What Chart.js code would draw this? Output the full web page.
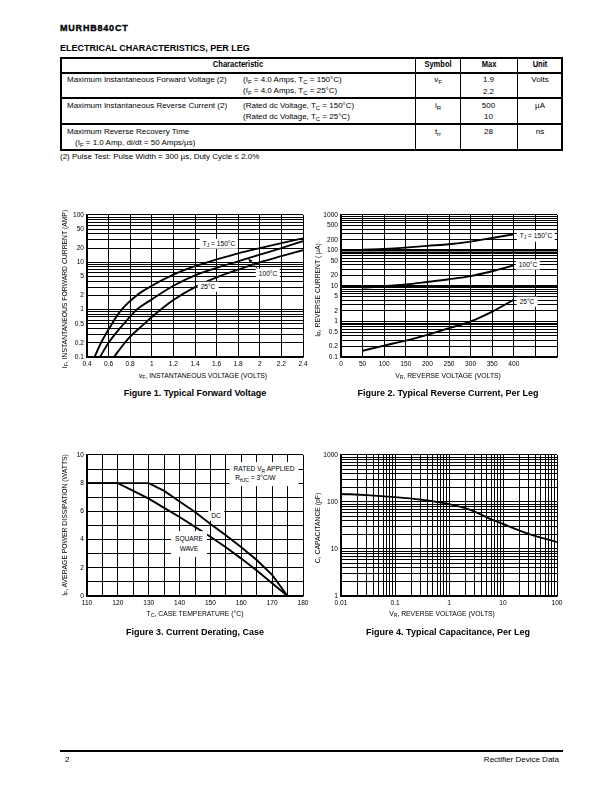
<!DOCTYPE html>
<html><head><meta charset="utf-8">
<script src="https://cdn.jsdelivr.net/npm/chart.js@4.4.1/dist/chart.umd.min.js"></script>
<style>
html,body{margin:0;padding:0;background:#fff;}
#page{position:relative;width:612px;height:792px;overflow:hidden;font-family:"Liberation Sans",Arial,Helvetica,sans-serif;color:#000;background:#fff;}
.t{position:absolute;white-space:nowrap;line-height:1;color:#000;}
.l{transform:translate(0,-50%);}
.c{transform:translate(-50%,-50%);}
.r{transform:translate(-100%,-50%);}
.v{transform:translate(-50%,-50%) rotate(-90deg);}
sub{font-size:75%;vertical-align:-0.3em;line-height:0;}
.hl{position:absolute;background:#000;}
canvas{position:absolute;}
.tb{font-size:8px;}
.hd{font-size:9.2px;font-weight:bold;transform:translate(-50%,-50%) scaleX(0.82);}
.ax{font-size:6.8px;}
.cap{font-size:9px;font-weight:bold;}
.lab{font-size:6.6px;background:#fff;padding:2px 3px;z-index:5;}
</style></head>
<body><div id="page">
<div class="t l" style="left:60px;top:28px;font-size:9px;font-weight:bold;letter-spacing:0.8px;-webkit-text-stroke:0.35px #000;">MURHB840CT</div>
<div class="t l" style="left:60px;top:47.5px;font-size:9px;font-weight:bold;">ELECTRICAL CHARACTERISTICS, PER LEG</div>

<!-- table lines -->
<div class="hl" style="left:60px;top:57px;width:503px;height:2px;"></div>
<div class="hl" style="left:60px;top:72px;width:503px;height:2px;"></div>
<div class="hl" style="left:60px;top:97px;width:503px;height:2px;"></div>
<div class="hl" style="left:60px;top:123px;width:503px;height:2px;"></div>
<div class="hl" style="left:60px;top:149px;width:503px;height:2px;"></div>
<div class="hl" style="left:60px;top:57px;width:2px;height:94px;"></div>
<div class="hl" style="left:561px;top:57px;width:2px;height:94px;"></div>
<div class="hl" style="left:415px;top:57px;width:1px;height:94px;"></div>
<div class="hl" style="left:460px;top:57px;width:1px;height:94px;"></div>
<div class="hl" style="left:517px;top:57px;width:1px;height:94px;"></div>

<div class="t hd" style="left:238px;top:65px;">Characteristic</div>
<div class="t hd" style="left:438px;top:65px;">Symbol</div>
<div class="t hd" style="left:488.5px;top:65px;">Max</div>
<div class="t hd" style="left:540px;top:65px;">Unit</div>

<div class="t l tb" style="left:67px;top:80px;">Maximum Instantaneous Forward Voltage (2)</div>
<div class="t l tb" style="left:243px;top:80px;">(I<sub>F</sub> = 4.0 Amps, T<sub>C</sub> = 150°C)</div>
<div class="t l tb" style="left:243px;top:90.5px;">(I<sub>F</sub> = 4.0 Amps, T<sub>C</sub> = 25°C)</div>
<div class="t c tb" style="left:438px;top:80px;">v<sub>F</sub></div>
<div class="t c tb" style="left:488.5px;top:80px;">1.9</div>
<div class="t c tb" style="left:488.5px;top:91.5px;">2.2</div>
<div class="t c tb" style="left:540px;top:80px;">Volts</div>

<div class="t l tb" style="left:67px;top:106px;">Maximum Instantaneous Reverse Current (2)</div>
<div class="t l tb" style="left:243px;top:106px;">(Rated dc Voltage, T<sub>C</sub> = 150°C)</div>
<div class="t l tb" style="left:243px;top:116.5px;">(Rated dc Voltage, T<sub>C</sub> = 25°C)</div>
<div class="t c tb" style="left:438px;top:106px;">i<sub>R</sub></div>
<div class="t c tb" style="left:488.5px;top:106px;">500</div>
<div class="t c tb" style="left:488.5px;top:116.5px;">10</div>
<div class="t c tb" style="left:540px;top:106px;">µA</div>

<div class="t l tb" style="left:67px;top:132px;">Maximum Reverse Recovery Time</div>
<div class="t l tb" style="left:75px;top:142.5px;">(I<sub>F</sub> = 1.0 Amp, di/dt = 50 Amps/µs)</div>
<div class="t c tb" style="left:438px;top:132px;">t<sub>rr</sub></div>
<div class="t c tb" style="left:488.5px;top:132px;">28</div>
<div class="t c tb" style="left:540px;top:132px;">ns</div>

<div class="t l" style="left:60px;top:157px;font-size:8px;">(2) Pulse Test: Pulse Width = 300 µs, Duty Cycle ≤ 2.0%</div>

<!-- charts -->
<canvas id="c1" width="258" height="163" style="left:57px;top:208px;"></canvas>
<canvas id="c2" width="258" height="163" style="left:311px;top:208px;"></canvas>
<canvas id="c3" width="258" height="162" style="left:57px;top:448px;"></canvas>
<canvas id="c4" width="258" height="162" style="left:311px;top:448px;"></canvas>

<!-- Figure 1 texts -->
<div class="t v ax" style="left:65px;top:289px;">I<sub>F</sub>, INSTANTANEOUS FORWARD CURRENT (AMP)</div>
<div class="t c ax" style="left:203px;top:376px;">v<sub>F</sub>, INSTANTANEOUS VOLTAGE (VOLTS)</div>
<div class="t c cap" style="left:195px;top:393px;">Figure 1. Typical Forward Voltage</div>
<div class="t c lab" style="left:219px;top:243.5px;">T<sub>J</sub> = 150°C</div>
<div class="t c lab" style="left:268px;top:274px;">100°C</div>
<div class="t c lab" style="left:208px;top:286.5px;">25°C</div>

<!-- Figure 2 texts -->
<div class="t v ax" style="left:318px;top:290px;">I<sub>R</sub>, REVERSE CURRENT ( µA)</div>
<div class="t c ax" style="left:448px;top:376px;">V<sub>R</sub>, REVERSE VOLTAGE (VOLTS)</div>
<div class="t c cap" style="left:448px;top:393px;">Figure 2. Typical Reverse Current, Per Leg</div>
<div class="t c lab" style="left:536px;top:236px;">T<sub>J</sub> = 150°C</div>
<div class="t c lab" style="left:528px;top:264.5px;">100°C</div>
<div class="t c lab" style="left:527px;top:301.5px;">25°C</div>

<!-- Figure 3 texts -->
<div class="t v ax" style="left:65px;top:525px;">I<sub>F</sub>, AVERAGE POWER DISSIPATION (WATTS)</div>
<div class="t c ax" style="left:195px;top:614px;">T<sub>C</sub>, CASE TEMPERATURE (°C)</div>
<div class="t c cap" style="left:195px;top:632px;">Figure 3. Current Derating, Case</div>
<div class="t c lab" style="left:264px;top:474px;text-align:left;line-height:1.35;padding:3px 4px;">RATED V<sub>R</sub> APPLIED<br>&nbsp;R<sub>θJC</sub> = 3°C/W</div>
<div class="t c lab" style="left:216px;top:515.5px;">DC</div>
<div class="t c lab" style="left:189px;top:544px;text-align:center;line-height:1.5;padding:3px 4px;">SQUARE<br>WAVE</div>

<!-- Figure 4 texts -->
<div class="t v ax" style="left:318px;top:528px;">C, CAPACITANCE (pF)</div>
<div class="t c ax" style="left:442px;top:614px;">V<sub>R</sub>, REVERSE VOLTAGE (VOLTS)</div>
<div class="t c cap" style="left:448px;top:632px;">Figure 4. Typical Capacitance, Per Leg</div>

<!-- footer -->
<div class="hl" style="left:60px;top:750px;width:503px;height:2px;"></div>
<div class="t l" style="left:65px;top:760px;font-size:8px;">2</div>
<div class="t r" style="left:559px;top:760px;font-size:8px;">Rectifier Device Data</div>
</div>

<script>
// ---------------- Figure 1: forward voltage ----------------
const fig1Curve150Volts = [0.47, 0.53, 0.63, 0.72, 0.86, 1.00, 1.20, 1.40, 1.60, 1.80, 2.00, 2.20, 2.40];
const fig1Curve150Amps  = [0.1, 0.2, 0.5, 1, 2, 3.2, 5.5, 8.3, 11.5, 15.5, 20, 25.5, 32];
const fig1Curve100Volts = [0.52, 0.60, 0.74, 0.86, 1.00, 1.20, 1.40, 1.60, 1.80, 2.00, 2.20, 2.40];
const fig1Curve100Amps  = [0.1, 0.2, 0.5, 1, 1.65, 3.2, 5.3, 7.6, 10.5, 14.5, 20, 28];
const fig1Curve25Volts  = [0.65, 0.75, 0.80, 0.93, 1.00, 1.20, 1.40, 1.60, 1.80, 2.00, 2.20, 2.40];
const fig1Curve25Amps   = [0.1, 0.2, 0.27, 0.5, 0.7, 1.6, 3.0, 4.8, 7.0, 10, 13.5, 18];
const fig1XTickLabels = ['0.4','0.6','0.8','1','1.2','1.4','1.6','1.8','2','2.2','2.4'];
const fig1YTickLabels = ['0.1','0.2','0.5','1','2','5','10','20','50','100'];
const fig1ArrowFrom = [1.985, 7.0];
const fig1ArrowTo = [1.895, 11.8];

// ---------------- Figure 2: reverse current ----------------
const fig2Volts    = [50, 100, 150, 200, 250, 300, 350, 400];
const fig2Curve150 = [105, 110, 120, 135, 150, 178, 225, 285];
const fig2Curve100 = [9, 9.8, 11, 13, 15.5, 19, 26, 38];
const fig2Curve25  = [0.15, 0.21, 0.29, 0.42, 0.65, 1.0, 1.9, 4.1];
const fig2XTickLabels = ['0','50','100','150','200','250','300','350','400','',''];
const fig2XGrid = [0, 50, 100, 150, 200, 250, 300, 350, 400, 450, 500];
const fig2YTickLabels = ['0.1','0.2','0.5','1','2','5','10','20','50','100','200','500','1000'];

// ---------------- Figure 3: current derating ----------------
const fig3TempDC      = [110, 130, 135, 140, 145, 150, 155, 160, 165, 170, 175];
const fig3PowerDC     = [8, 8, 7.45, 6.7, 5.95, 5.1, 4.3, 3.45, 2.55, 1.5, 0];
const fig3TempSquare  = [110, 120, 125, 130, 135, 140, 145, 150, 155, 160, 165, 170, 175];
const fig3PowerSquare = [8, 8, 7.45, 6.9, 6.25, 5.6, 4.9, 4.2, 3.45, 2.65, 1.8, 0.9, 0];
const fig3XGrid = [110,115,120,125,130,135,140,145,150,155,160,165,170,175,180];
const fig3XTickLabels = ['110','120','130','140','150','160','170','180'];
const fig3YGrid = [0,1,2,3,4,5,6,7,8,9,10];
const fig3YTickLabels = ['0','2','4','6','8','10'];

// ---------------- Figure 4: capacitance ----------------
const fig4Volts = [0.01, 0.03, 0.1, 0.3, 1, 2, 3, 5, 10, 30, 100];
const fig4Cap   = [148, 140, 127, 112, 90, 74, 62, 47, 34, 21, 14];
const fig4XTickLabels = ['0.01','0.1','1','10','100'];
const fig4YTickLabels = ['1','10','100','1000'];

// ---------------- helpers ----------------
function logGrid(minExp, maxExp) {
  const out = [];
  for (let e = minExp; e < maxExp; e++) {
    for (let m = 1; m <= 9; m++) out.push(Number((m * Math.pow(10, e)).toPrecision(3)));
  }
  out.push(Number(Math.pow(10, maxExp).toPrecision(3)));
  return out;
}
const fmt = v => String(Number(Number(v).toPrecision(3)));

Chart.defaults.font.family = '"Liberation Sans", Arial, Helvetica, sans-serif';
Chart.defaults.font.size = 6.5;
Chart.defaults.color = '#000';

function axis(type, min, max, gridValues, labels, isX, fixedSize, thick) {
  return {
    type, min, max,
    position: isX ? 'bottom' : 'left',
    afterBuildTicks: s => { s.ticks = gridValues.map(v => ({ value: v })); },
    afterFit: s => { if (isX) s.height = fixedSize; else s.width = fixedSize; },
    ticks: {
      autoSkip: false, maxRotation: 0, minRotation: 0,
      padding: 3,
      font: { size: 6.6 }, color: '#000',
      callback: (v) => { const f = fmt(v); return labels.includes(f) ? f : ''; }
    },
    grid: {
      color: '#000', drawTicks: false, tickLength: 0,
      lineWidth: c => (thick && c.tick && thick.includes(c.tick.value)) ? 2.6 : 1
    },
    border: { display: true, color: '#000', width: 1.6 }
  };
}

const arrowPlugin = {
  id: 'arrowNote',
  afterDatasetsDraw(chart, args, opts) {
    if (!opts || !opts.from) return;
    const xs = chart.scales.x, ys = chart.scales.y, ctx = chart.ctx;
    const x1 = xs.getPixelForValue(opts.from[0]), y1 = ys.getPixelForValue(opts.from[1]);
    const x2 = xs.getPixelForValue(opts.to[0]), y2 = ys.getPixelForValue(opts.to[1]);
    ctx.save();
    ctx.strokeStyle = '#000'; ctx.fillStyle = '#000'; ctx.lineWidth = 0.9;
    ctx.beginPath(); ctx.moveTo(x1, y1); ctx.lineTo(x2, y2); ctx.stroke();
    const a = Math.atan2(y2 - y1, x2 - x1), L = 4.5;
    ctx.beginPath(); ctx.moveTo(x2, y2);
    ctx.lineTo(x2 - L * Math.cos(a - 0.45), y2 - L * Math.sin(a - 0.45));
    ctx.lineTo(x2 - L * Math.cos(a + 0.45), y2 - L * Math.sin(a + 0.45));
    ctx.closePath(); ctx.fill();
    ctx.restore();
  }
};

function line(xs, ys, smooth) {
  return {
    data: xs.map((x, i) => ({ x, y: ys[i] })),
    borderColor: '#000', borderWidth: 1.9, pointRadius: 0, fill: false,
    cubicInterpolationMode: smooth ? 'monotone' : 'default', tension: 0
  };
}

function baseOptions(xAxis, yAxis, extraPlugins) {
  return {
    responsive: false, animation: false, devicePixelRatio: 1,
    layout: { padding: { left: 0, right: 12, top: 6, bottom: 0 } },
    plugins: Object.assign({ legend: { display: false }, tooltip: { enabled: false }, title: { display: false } }, extraPlugins || {}),
    scales: { x: xAxis, y: yAxis }
  };
}

// Figure 1
new Chart(document.getElementById('c1'), {
  type: 'line',
  data: { datasets: [
    line(fig1Curve150Volts, fig1Curve150Amps, true),
    line(fig1Curve100Volts, fig1Curve100Amps, true),
    line(fig1Curve25Volts, fig1Curve25Amps, true)
  ]},
  options: baseOptions(
    axis('linear', 0.4, 2.4, fig1XTickLabels.map(Number), fig1XTickLabels, true, 14),
    axis('logarithmic', 0.1, 100, logGrid(-1, 2), fig1YTickLabels, false, 30),
    { arrowNote: { from: fig1ArrowFrom, to: fig1ArrowTo } }
  ),
  plugins: [arrowPlugin]
});

// Figure 2
new Chart(document.getElementById('c2'), {
  type: 'line',
  data: { datasets: [
    line(fig2Volts, fig2Curve150, true),
    line(fig2Volts, fig2Curve100, true),
    line(fig2Volts, fig2Curve25, true)
  ]},
  options: baseOptions(
    axis('linear', 0, 500, fig2XGrid, fig2XTickLabels, true, 14),
    axis('logarithmic', 0.1, 1000, logGrid(-1, 3), fig2YTickLabels, false, 30, [10, 100])
  )
});

// Figure 3
new Chart(document.getElementById('c3'), {
  type: 'line',
  data: { datasets: [
    line(fig3TempDC, fig3PowerDC, false),
    line(fig3TempSquare, fig3PowerSquare, false)
  ]},
  options: baseOptions(
    axis('linear', 110, 180, fig3XGrid, fig3XTickLabels, true, 14),
    axis('linear', 0, 10, fig3YGrid, fig3YTickLabels, false, 30)
  )
});

// Figure 4
new Chart(document.getElementById('c4'), {
  type: 'line',
  data: { datasets: [
    line(fig4Volts, fig4Cap, true)
  ]},
  options: baseOptions(
    axis('logarithmic', 0.01, 100, logGrid(-2, 2), fig4XTickLabels, true, 14),
    axis('logarithmic', 1, 1000, logGrid(0, 3), fig4YTickLabels, false, 30)
  )
});
</script>
</body></html>
